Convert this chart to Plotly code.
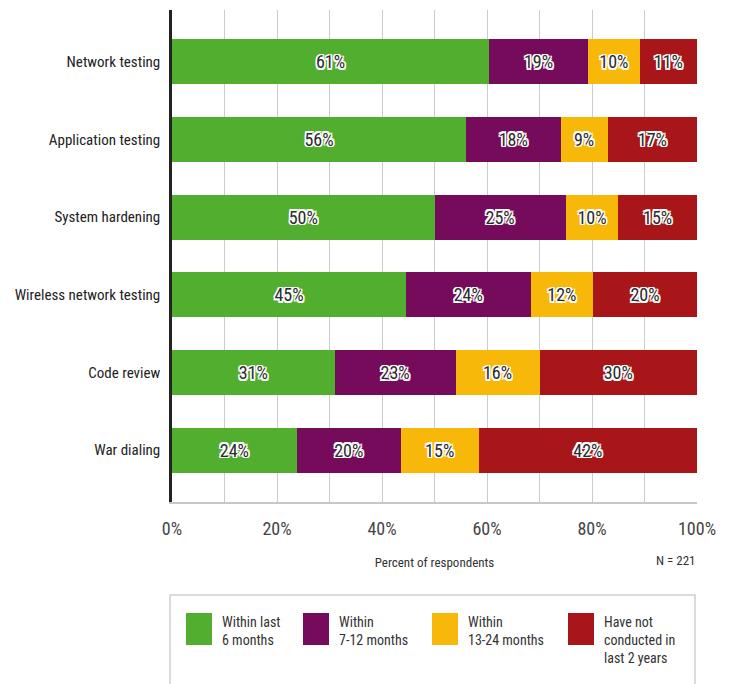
import plotly.graph_objects as go

categories = ["Network testing", "Application testing", "System hardening",
              "Wireless network testing", "Code review", "War dialing"]
series_names = ["Within last<br>6 months", "Within<br>7-12 months",
                "Within<br>13-24 months", "Have not<br>conducted in<br>last 2 years"]
within_6 = [61, 56, 50, 45, 31, 24]
within_7_12 = [19, 18, 25, 24, 23, 20]
within_13_24 = [10, 9, 10, 12, 16, 15]
not_conducted = [11, 17, 15, 20, 30, 42]
colors = ["#52ae2f", "#760b5c", "#f8b80a", "#a8161a"]
x_ticks = [0, 20, 40, 60, 80, 100]
x_tick_labels = ["0%", "20%", "40%", "60%", "80%", "100%"]

series = [within_6, within_7_12, within_13_24, not_conducted]
row_sums = [sum(v) for v in zip(*series)]

FONT = "Liberation Sans Narrow, Roboto Condensed, Arial Narrow, DejaVu Sans Condensed, Roboto, sans-serif"
outline = ("-1.5px -1.5px 0 #fff, 1.5px -1.5px 0 #fff, -1.5px 1.5px 0 #fff, 1.5px 1.5px 0 #fff, "
           "0 1.5px 0 #fff, 0 -1.5px 0 #fff, 1.5px 0 0 #fff, -1.5px 0 0 #fff")

fig = go.Figure()
for name, vals, col in zip(series_names, series, colors):
    fig.add_trace(go.Bar(
        y=categories,
        x=[v / s * 100 for v, s in zip(vals, row_sums)],
        orientation="h",
        name=name,
        marker=dict(color=col, line=dict(width=0)),
        text=[f"{v}%" for v in vals],
        textposition="inside",
        insidetextanchor="middle",
        textangle=0,
        constraintext="none",
        textfont=dict(family=FONT, size=18, color="#2a2a2a", shadow=outline),
        hoverinfo="skip",
        showlegend=False,
    ))

PX_L, PX_W, PX_B, PX_H = 172, 525, 502, 492


def px(xp):
    return (xp - PX_L) / PX_W


def py(yp):
    return (PX_B - yp) / PX_H


# custom legend (box + swatches + labels)
fig.add_shape(type="rect", xref="paper", yref="paper",
              x0=px(170), x1=px(695), y0=py(720), y1=py(595),
              line=dict(color="#cfcfcf", width=1.5), fillcolor="rgba(0,0,0,0)")
swatch_x = [186, 303, 432, 568]
for sx, name, col in zip(swatch_x, series_names, colors):
    fig.add_shape(type="rect", xref="paper", yref="paper",
                  x0=px(sx), x1=px(sx + 26), y0=py(645), y1=py(613),
                  fillcolor=col, line=dict(width=0))
    fig.add_annotation(xref="paper", yref="paper",
                       x=px(sx + 34), y=py(612),
                       xanchor="left", yanchor="top", align="left",
                       text=name, showarrow=False,
                       font=dict(family=FONT, size=14, color="#333"))

fig.add_annotation(xref="paper", yref="paper", x=px(698), y=py(570),
                   xanchor="right", yanchor="bottom", text="N = 221", showarrow=False,
                   font=dict(family=FONT, size=13, color="#333"))

fig.update_layout(
    template="none",
    width=733, height=684,
    margin=dict(l=PX_L, r=36, t=10, b=182),
    barmode="stack",
    bargap=0.42,
    plot_bgcolor="white",
    paper_bgcolor="white",
    font=dict(family=FONT, color="#333"),
    xaxis=dict(range=[0, 100], tickmode="array", tickvals=x_ticks, ticktext=x_tick_labels,
               showgrid=True, gridcolor="#cccccc", gridwidth=1,
               minor=dict(tickmode="linear", tick0=0, dtick=10, showgrid=True,
                          gridcolor="#cccccc", gridwidth=1, ticks=""),
               zeroline=False, showline=True,
               linecolor="#c8c8c8", linewidth=1.5, mirror=False,
               tickfont=dict(family=FONT, size=18, color="#444"),
               ticks="", ticklabelstandoff=10,
               title=dict(text="Percent of respondents", standoff=20,
                          font=dict(family=FONT, size=13, color="#333"))),
    yaxis=dict(categoryorder="array", categoryarray=categories,
               range=[5.667, -0.667], showgrid=False, zeroline=False,
               showline=True, linecolor="#222", linewidth=2.5,
               ticks="", ticklabelstandoff=6,
               tickfont=dict(family=FONT, size=15, color="#222")),
)

fig.write_html("out.html")
